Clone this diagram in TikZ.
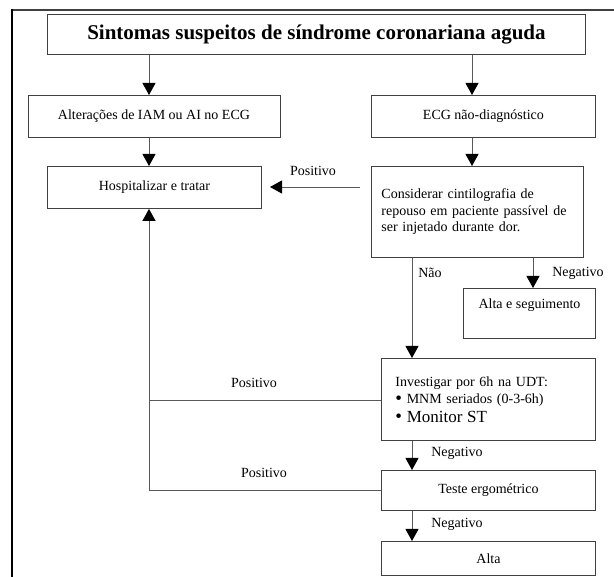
\documentclass[tikz,border=0pt]{standalone}
\usepackage{fontspec}
\setmainfont{Liberation Serif}
\usetikzlibrary{arrows.meta}
\newcommand{\bodyfont}{\fontsize{14}{16.5}\selectfont}
\newcommand{\bigbul}{{\fontsize{19}{16}\selectfont\raisebox{-0.6pt}{•}}}
\tikzset{
  box/.style={draw=black!75, line width=0.9pt, inner sep=0pt, anchor=north west, font=\bodyfont},
  arr/.style={draw=black!65, line width=0.9pt, -{Triangle[length=12pt,width=13pt,color=black]}},
  conn/.style={draw=black!65, line width=0.9pt},
  lbl/.style={inner sep=0pt, font=\bodyfont}
}
\begin{document}
\begin{tikzpicture}[x=1pt,y=-1pt]
\useasboundingbox (0,0) rectangle (614,577);
% frame
\draw[line width=2pt, black!75] (11,10) -- (614,10);
\draw[line width=2pt, black] (12,9) -- (12,577);
% guide coordinates
\coordinate (cL) at (149,0);
\coordinate (cR) at (472,0);
\coordinate (cN) at (412,0);
\coordinate (cA) at (533,0);
\coordinate (yP) at (0,400);
\coordinate (p1s) at (360,187);
\coordinate (p1e) at (270,187);
% boxes
\node[box, minimum width=538pt, minimum height=40pt, font=\fontsize{21}{24}\selectfont\bfseries] (title) at (47,14) {Sintomas suspeitos de síndrome coronariana aguda};
\node[box, minimum width=252pt, minimum height=42pt] (la) at (27.5,95) {Alterações de IAM ou AI no ECG};
\node[box, minimum width=224pt, minimum height=42pt] (ecg) at (371,95) {ECG não-diagnóstico};
\node[box, minimum width=214pt, minimum height=42pt] (hosp) at (47,166) {Hospitalizar e tratar};
\node[box, minimum width=212pt, minimum height=91pt, inner xsep=10pt, text width=192pt, align=left] (cons) at (371,166) {Considerar cintilografia de\\repouso em paciente passível de\\ser injetado durante dor.};
\node[box, minimum width=132pt, text height=20pt, text depth=30pt] (as) at (463,288) {Alta e seguimento};
\node[box, minimum width=214pt, minimum height=82pt, inner xsep=14pt, text width=186pt, align=left] (inv) at (381,358) {Investigar por 6h na UDT:\\[1pt]\bigbul\ MNM seriados (0-3-6h)\\[2pt]\bigbul\ {\fontsize{17}{19}\selectfont Monitor ST}};
\node[box, minimum width=214pt, minimum height=40pt] (teste) at (381,470) {Teste ergométrico};
\node[box, minimum width=214pt, minimum height=34pt] (alta) at (381,541) {Alta};
% connectors
\draw[arr] (title.south -| cL) -- (la.north -| cL);
\draw[arr] (title.south -| cR) -- (ecg.north -| cR);
\draw[arr] (la.south -| cL) -- (hosp.north -| cL);
\draw[arr] (ecg.south -| cR) -- (cons.north -| cR);
\draw[arr] (p1s) -- (p1e);
\draw[arr] (cons.south -| cN) -- (inv.north -| cN);
\draw[arr] (cons.south -| cA) -- (as.north -| cA);
\draw[arr] (inv.south -| cN) -- (teste.north -| cN);
\draw[arr] (teste.south -| cN) -- (alta.north -| cN);
\draw[arr] (inv.west |- yP) -- (cL |- yP) -- (hosp.south -| cL);
\draw[conn] (teste.west) -- (teste.west -| cL) -- (cL |- yP);
% labels
\node[lbl] (l1) at (313,171) {Positivo};
\node[lbl] (l2) at (430,273) {Não};
\node[lbl] (l3) at (578,273) {Negativo};
\node[lbl] (l4) at (254,383) {Positivo};
\node[lbl] (l5) at (457,453) {Negativo};
\node[lbl] (l6) at (264,473) {Positivo};
\node[lbl] (l7) at (457,524) {Negativo};
\end{tikzpicture}
\end{document}
